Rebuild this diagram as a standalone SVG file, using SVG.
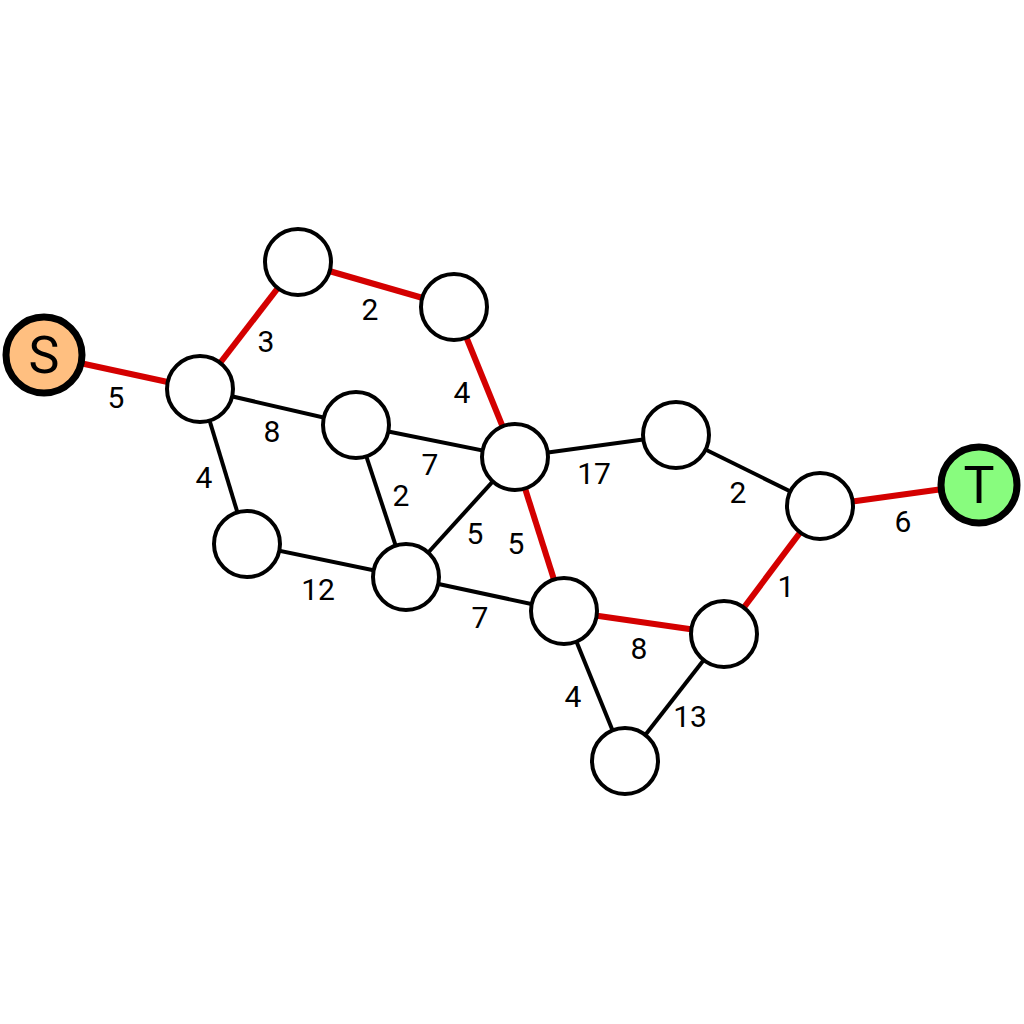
<svg xmlns="http://www.w3.org/2000/svg" width="1024" height="1024" viewBox="0 0 1024 1024">
<style>
.e{stroke:#000;stroke-width:4;fill:none}
.r{stroke:#d40000;stroke-width:6;fill:none}
.n{fill:#fff;stroke:#000;stroke-width:4}
.big{stroke:#000;stroke-width:7}
.l{font-family:Roboto,"Liberation Sans",sans-serif;font-size:30px;fill:#000;text-anchor:middle;dominant-baseline:central}
.t{font-family:Roboto,"Liberation Sans",sans-serif;font-size:52px;fill:#000;text-anchor:middle;dominant-baseline:central}
</style>
<rect width="1024" height="1024" fill="#fff"/>
<g id="edges">
<line class="r" x1="43" y1="355" x2="200" y2="389"/>
<line class="r" x1="200" y1="389" x2="298" y2="262"/>
<line class="r" x1="298" y1="262" x2="454" y2="307"/>
<line class="r" x1="454" y1="307" x2="515" y2="457"/>
<line class="e" x1="200" y1="389" x2="356" y2="425"/>
<line class="e" x1="200" y1="389" x2="247" y2="544"/>
<line class="e" x1="356" y1="425" x2="515" y2="457"/>
<line class="e" x1="356" y1="425" x2="406" y2="577"/>
<line class="e" x1="515" y1="457" x2="406" y2="577"/>
<line class="r" x1="515" y1="457" x2="564" y2="611"/>
<line class="e" x1="515" y1="457" x2="676" y2="435"/>
<line class="e" x1="676" y1="435" x2="820" y2="506"/>
<line class="r" x1="820" y1="506" x2="979" y2="484"/>
<line class="e" x1="247" y1="544" x2="406" y2="577"/>
<line class="e" x1="406" y1="577" x2="564" y2="611"/>
<line class="r" x1="564" y1="611" x2="724" y2="634"/>
<line class="r" x1="724" y1="634" x2="820" y2="506"/>
<line class="e" x1="564" y1="611" x2="625" y2="761"/>
<line class="e" x1="724" y1="634" x2="625" y2="761"/>
</g>
<g id="labels">
<text class="l" x="116" y="397">5</text>
<text class="l" x="266" y="341">3</text>
<text class="l" x="370" y="309">2</text>
<text class="l" x="462" y="392">4</text>
<text class="l" x="272" y="431">8</text>
<text class="l" x="204" y="477">4</text>
<text class="l" x="430" y="464">7</text>
<text class="l" x="401" y="495">2</text>
<text class="l" x="475" y="533">5</text>
<text class="l" x="516" y="543">5</text>
<text class="l" x="594" y="473">17</text>
<text class="l" x="738" y="492">2</text>
<text class="l" x="903" y="521">6</text>
<text class="l" x="318" y="589">12</text>
<text class="l" x="480" y="617">7</text>
<text class="l" x="639" y="648">8</text>
<text class="l" x="786" y="586">1</text>
<text class="l" x="573" y="696">4</text>
<text class="l" x="690" y="716">13</text>
</g>
<g id="nS"><circle cx="44" cy="355" r="38" fill="#ffbf80" class="big"/><text class="t" x="44" y="355">S</text></g>
<g id="nT"><circle cx="979" cy="485" r="38" fill="#88fc7e" class="big"/><text class="t" x="979" y="485">T</text></g>
<g id="n1"><circle class="n" cx="298" cy="262" r="33"/></g>
<g id="n2"><circle class="n" cx="454" cy="307" r="33"/></g>
<g id="n3"><circle class="n" cx="200" cy="389" r="33"/></g>
<g id="n4"><circle class="n" cx="356" cy="425" r="33"/></g>
<g id="n5"><circle class="n" cx="515" cy="457" r="33"/></g>
<g id="n6"><circle class="n" cx="676" cy="435" r="33"/></g>
<g id="n7"><circle class="n" cx="820" cy="506" r="33"/></g>
<g id="n8"><circle class="n" cx="247" cy="544" r="33"/></g>
<g id="n9"><circle class="n" cx="406" cy="577" r="33"/></g>
<g id="n10"><circle class="n" cx="564" cy="611" r="33"/></g>
<g id="n11"><circle class="n" cx="724" cy="634" r="33"/></g>
<g id="n12"><circle class="n" cx="625" cy="761" r="33"/></g>
</svg>
